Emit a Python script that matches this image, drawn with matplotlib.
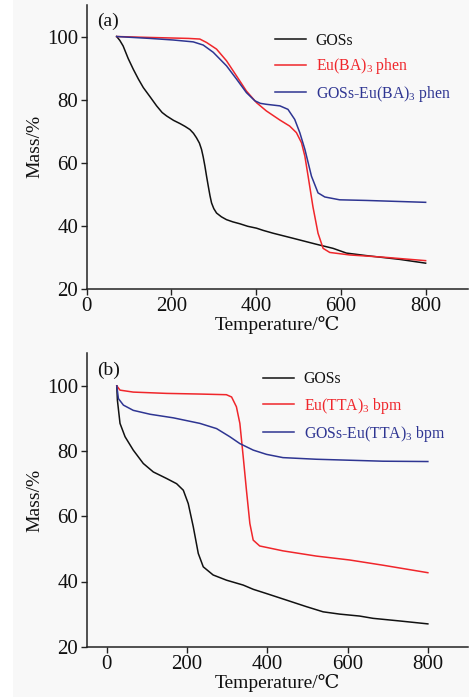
import matplotlib
matplotlib.use("Agg")
import matplotlib.pyplot as plt
from matplotlib.patches import Rectangle

plt.rcParams['font.family'] = ['Liberation Serif', 'DejaVu Serif', 'DejaVu Sans']
plt.rcParams['mathtext.fontset'] = 'custom'
plt.rcParams['mathtext.rm'] = 'Liberation Serif'
plt.rcParams['mathtext.it'] = 'Liberation Serif:italic'

# ---- Panel (a) data ----
a_gos_T = [70.7, 78, 86, 98, 110, 122, 133.6, 150, 165, 178, 188.6, 205, 220, 232, 243.6, 252,
           259, 266, 271, 275, 279, 283, 287, 291, 294.7, 300, 306.5, 318,
           330, 345, 361.5, 380, 400.8, 416.5, 440, 487, 542, 581.5, 613, 660, 738.7, 800]
a_gos_M = [100, 98.8, 97, 93, 89.6, 86.5, 83.8, 80.8, 78, 75.9, 74.8, 73.4, 72.4, 71.5, 70.5, 69.3,
           67.9, 66.2, 64.2, 61.8, 58.9, 55.6, 52.5, 49.5, 47.2, 45.4, 44, 42.8,
           41.9, 41.2, 40.6, 39.8, 39.2, 38.5, 37.6, 36, 34.1, 32.8, 31.3, 30.5, 29.3, 28.1]
a_eu_T = [70.7, 150, 240, 267, 283, 306.5, 330, 353.6, 377, 401, 424, 456, 479, 495, 507, 515,
          522.6, 534, 546, 558, 573.7, 621, 700, 800]
a_eu_M = [100, 99.7, 99.4, 99.2, 98.1, 96, 92.3, 87.5, 82.7, 79, 76.4, 73.5, 71.6, 69.5, 66.3, 62,
          55.7, 46, 37.6, 32.8, 31.5, 30.7, 30, 28.9]
a_comp_T = [70.7, 149, 204, 251.5, 275, 298.6, 330, 353.6, 377, 397, 410, 424, 456, 475, 491, 503,
            515, 530.5, 546, 562, 597, 660, 800]
a_comp_M = [100, 99.4, 98.9, 98.3, 97.3, 95, 90.7, 86.5, 82.2, 79.6, 78.8, 78.5, 78, 76.9, 73.7, 69.5,
            64.2, 55.7, 50.4, 49.1, 48.2, 48, 47.4]
a_labels = ['GOSs', r'Eu(BA)$_3$ phen', r'GOSs-Eu(BA)$_3$ phen']

# ---- Panel (b) data ----
b_gos_T = [24.9, 26.5, 33, 45.6, 66, 91, 116, 149, 174, 190.7, 203, 215.5, 228, 240.4, 265,
           298.4, 340, 365, 398, 447.6, 497, 539, 580, 630, 663.4, 729.5, 800]
b_gos_M = [100, 95.6, 88.5, 84.4, 80.3, 76.2, 73.6, 71.6, 70, 68, 63.9, 56.8, 48.6, 44.5, 42,
           40.4, 38.9, 37.6, 36.3, 34.3, 32.3, 30.7, 30, 29.4, 28.7, 27.9, 27]
b_eu_T = [25, 33, 66, 149, 232, 298, 311, 323, 331.6, 340, 348, 356.5, 364.8, 381, 439, 522,
          605, 688, 800]
b_eu_M = [100, 98.7, 98.1, 97.7, 97.5, 97.3, 96.6, 93.6, 88.5, 78.2, 68, 57.8, 52.7, 50.9, 49.4,
          47.8, 46.6, 45, 42.7]
b_comp_T = [25, 29, 41.5, 66, 108, 166, 232, 273.6, 306.7, 331.6, 365, 398, 439, 522, 605, 688, 800]
b_comp_M = [100, 96.1, 94.1, 92.5, 91.3, 90.2, 88.5, 86.9, 84.4, 82.3, 80.3, 79, 78, 77.5, 77.2,
            76.9, 76.8]
b_labels = ['GOSs', r'Eu(TTA)$_3$ bpm', r'GOSs-Eu(TTA)$_3$ bpm']

x_ticks = [0, 200, 400, 600, 800]
y_ticks = [20, 40, 60, 80, 100]

colors = ['#111111', '#f0262b', '#2e3592']

W, H = 469, 697
fig = plt.figure(figsize=(W / 100, H / 100), dpi=100, facecolor='#f8f8f8')
fig.patches.append(Rectangle((0, 0), 13 / W, 1, transform=fig.transFigure,
                             facecolor='white', edgecolor='none', zorder=0))


def make_axes(rect, xlim, series, labels, panel, leg_anchor, spacing):
    ax = fig.add_axes(rect)
    ax.set_facecolor('none')
    handles = []
    for (T, M), c in zip(series, colors):
        h, = ax.plot(T, M, color=c, lw=1.1)
        handles.append(h)
    ax.set_xlim(*xlim)
    ax.set_ylim(20, 110)
    ax.set_xticks(x_ticks)
    ax.set_yticks(y_ticks)
    for s in ['top', 'right']:
        ax.spines[s].set_visible(False)
    for s in ['left', 'bottom']:
        ax.spines[s].set_linewidth(1.1)
        ax.spines[s].set_color('#222222')
    ax.tick_params(direction='out', length=4, width=1.0, labelsize=15, colors='#222222',
                   labelcolor='#111111', pad=2)
    ax.set_xlabel('Temperature/℃', fontsize=14, labelpad=0, color='#111111')
    ax.set_ylabel('Mass/%', fontsize=14, labelpad=3, color='#111111')
    ax.text(0.027, 0.972, panel, transform=ax.transAxes, fontsize=14, va='top', ha='left',
            color='#111111')
    leg = ax.legend(handles, labels, loc='upper left', bbox_to_anchor=leg_anchor, frameon=False,
                    fontsize=11.3, handlelength=2.0, handletextpad=0.6, borderpad=0,
                    borderaxespad=0, labelspacing=spacing)
    for t, c in zip(leg.get_texts(), colors):
        t.set_color(c)
    return ax


top_rect = [86.7 / W, 1 - 288.7 / H, (468 - 86.7) / W, (288.7 - 5) / H]
bot_rect = [86.7 / W, 1 - 646.7 / H, (468 - 86.7) / W, (646.7 - 353.3) / H]

make_axes(top_rect, (0, 900),
          [(a_gos_T, a_gos_M), (a_eu_T, a_eu_M), (a_comp_T, a_comp_M)],
          a_labels, '(a)', (0.494, 0.902), 0.48)
make_axes(bot_rect, (-50, 900),
          [(b_gos_T, b_gos_M), (b_eu_T, b_eu_M), (b_comp_T, b_comp_M)],
          b_labels, '(b)', (0.462, 0.938), 0.52)

fig.savefig('out.png', dpi=100, facecolor=fig.get_facecolor())
